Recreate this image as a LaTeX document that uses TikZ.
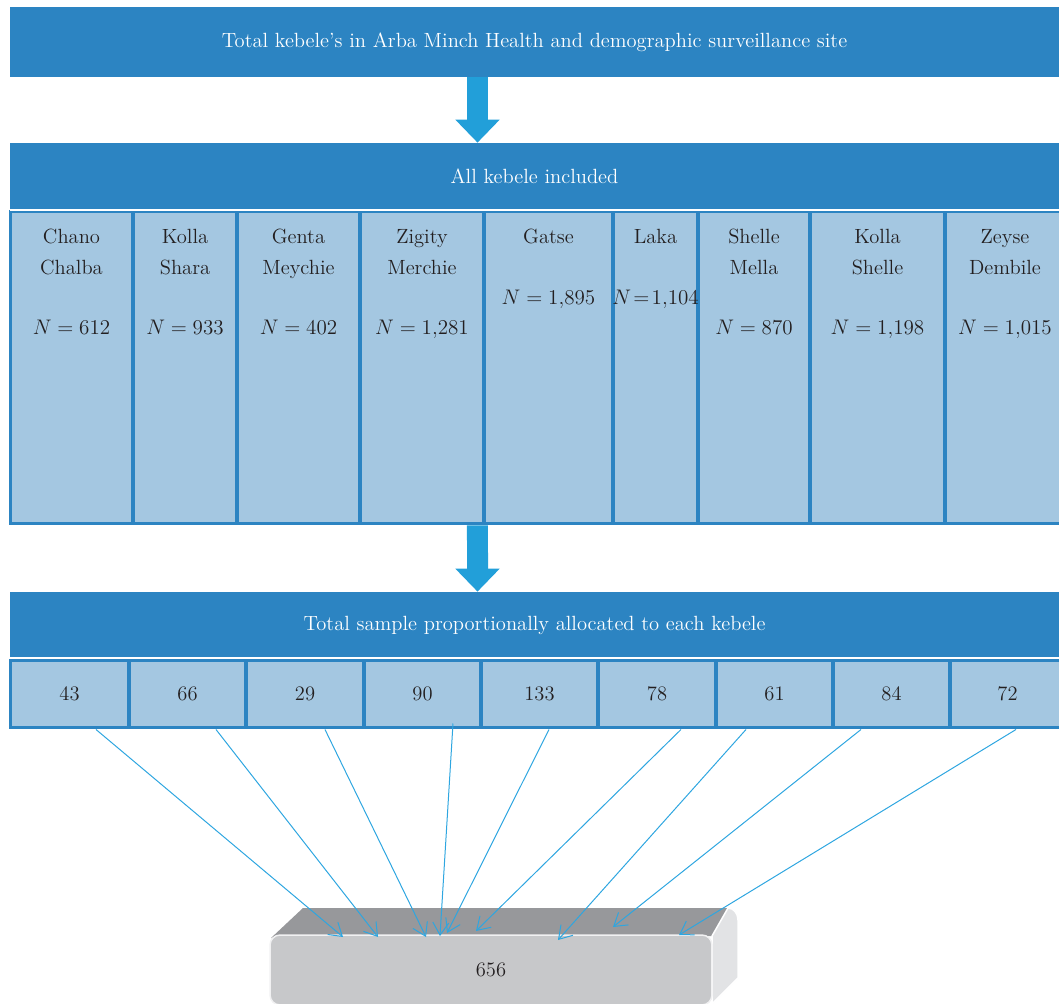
\documentclass[tikz,border=0pt]{standalone}
\usepackage{tikz}
\usetikzlibrary{arrows.meta, positioning}
\definecolor{kbDark}{HTML}{2C84C2}
\definecolor{kbLight}{HTML}{A4C7E1}
\definecolor{kbArrow}{HTML}{229FD9}
\definecolor{kbLine}{HTML}{2EA6E0}
\definecolor{kbText}{HTML}{231F20}
\definecolor{boxFront}{HTML}{C7C8CA}
\definecolor{boxTop}{HTML}{97989B}
\definecolor{boxSide}{HTML}{E2E3E5}

\begin{document}
\begin{tikzpicture}[x=0.02cm, y=-0.02cm, font=\fontsize{11.7}{17.6}\selectfont, text=kbText,
    banner/.style={rectangle, fill=kbDark, text=white, minimum width=20.98cm, inner sep=0},
    col/.style={rectangle, fill=kbLight, draw=kbDark, line width=0.06cm, minimum height=6.26cm, inner sep=0},
    coltext/.style={anchor=north, align=center, inner sep=0},
    cell/.style={rectangle, fill=kbLight, draw=kbDark, line width=0.06cm, minimum height=1.36cm, inner sep=0},
    blockarrow/.style={draw=kbArrow, line width=0.42cm, -{Triangle[length=0.46cm 0 0, width=0.86cm 0 0]}},
    thinarrow/.style={draw=kbLine, line width=0.02cm, -{Straight Barb[length=0.25cm, width=0.32cm]}}]
        \useasboundingbox (0,0) rectangle (1059,1004);
        \clip (0,0) rectangle (1059,1004);

        % top banners
        \node[banner, minimum height=1.4cm] at (534.5, 42) (top) {Total kebele's in Arba Minch Health and demographic surveillance site};

        % kebele columns
        \node[col, minimum width=2.46cm] at (71.5, 367.5)  (k1) {};
        \node[col, minimum width=2.08cm] at (185, 367.5)   (k2) {};
        \node[col, minimum width=2.46cm] at (298.5, 367.5) (k3) {};
        \node[col, minimum width=2.48cm] at (422, 367.5)   (k4) {};
        \node[col, minimum width=2.58cm] at (548.5, 367.5) (k5) {};
        \node[col, minimum width=1.70cm] at (655.5, 367.5) (k6) {};
        \node[col, minimum width=2.24cm] at (754, 367.5)   (k7) {};
        \node[col, minimum width=2.70cm] at (877.5, 367.5) (k8) {};
        \node[col, minimum width=2.40cm] at (1005, 367.5)  (k9) {};

        \node[banner, minimum height=1.34cm] at (534.5, 176.5) (all) {All kebele included};
        \draw[white, line width=0.04cm] (all.south west) -- (all.south east);

        \node[coltext] at (71.5, 229)  (n1) {Chano\\Chalba\\[0.58cm]$N = 612$};
        \node[coltext] at (185, 229)   (n2) {Kolla\\Shara\\[0.58cm]$N = 933$};
        \node[coltext] at (298.5, 229) (n3) {Genta\\Meychie\\[0.58cm]$N = 402$};
        \node[coltext] at (422, 229)   (n4) {Zigity\\Merchie\\[0.58cm]$N = 1{,}281$};
        \node[coltext] at (548.5, 229) (n5) {Gatse\\[0.6cm]$N = 1{,}895$};
        \node[coltext] at (655.5, 229) (n6) {Laka\\[0.6cm]$N\!=\!1{,}104$};
        \node[coltext] at (754, 229)   (n7) {Shelle\\Mella\\[0.58cm]$N = 870$};
        \node[coltext] at (877.5, 229) (n8) {Kolla\\Shelle\\[0.58cm]$N = 1{,}198$};
        \node[coltext] at (1005, 229)  (n9) {Zeyse\\Dembile\\[0.58cm]$N = 1{,}015$};

        % sample row
        \node[cell, minimum width=2.38cm] at (69.5, 694)   (c1) {43};
        \node[cell, minimum width=2.34cm] at (187.5, 694)  (c2) {66};
        \node[cell, minimum width=2.36cm] at (305, 694)    (c3) {29};
        \node[cell, minimum width=2.34cm] at (422.5, 694)  (c4) {90};
        \node[cell, minimum width=2.34cm] at (539.5, 694)  (c5) {133};
        \node[cell, minimum width=2.36cm] at (657, 694)    (c6) {78};
        \node[cell, minimum width=2.34cm] at (774.5, 694)  (c7) {61};
        \node[cell, minimum width=2.34cm] at (891.5, 694)  (c8) {84};
        \node[cell, minimum width=2.30cm] at (1007.5, 694) (c9) {72};

        \node[banner, minimum height=1.32cm] at (534.5, 625) (samp) {Total sample proportionally allocated to each kebele};
        \draw[white, line width=0.04cm] (samp.south west) -- (samp.south east);

        \draw[blockarrow] ([xshift=-1.14cm]top.south) -- ([xshift=-1.14cm]all.north);
        \draw[blockarrow] ([xshift=1.11cm]k4.south) -- ([xshift=-1.14cm]samp.north);

        % total box
        \fill[boxTop] (271,938) -- (303,908) -- (728,908) -- (712,936) -- cycle;
        \fill[boxSide, draw=white, line width=0.03cm] (712,936) -- (728,908) to[out=0, in=90] (738,920) -- (738,978) -- (712,1004) -- cycle;
        \node[rectangle, rounded corners=0.2cm, fill=boxFront, draw=white!75!boxFront, line width=0.03cm,
            minimum width=8.84cm, minimum height=1.4cm] at (491, 970) (total) {656};

        \coordinate (t1) at (343, 937);
        \coordinate (t2) at (378, 937);
        \coordinate (t3) at (426, 937);
        \coordinate (t4) at (440, 936);
        \coordinate (t5) at (447, 933);
        \coordinate (t6) at (476, 931);
        \coordinate (t7) at (558, 940);
        \coordinate (t8) at (613, 927);
        \coordinate (t9) at (679, 935);

        \draw[thinarrow] ([xshift=0.53cm]c1.south) -- (t1);
        \draw[thinarrow] ([xshift=0.57cm]c2.south) -- (t2);
        \draw[thinarrow] ([xshift=0.40cm]c3.south) -- (t3);
        \draw[thinarrow] ([xshift=0.61cm, yshift=0.12cm]c4.south) -- (t4);
        \draw[thinarrow] ([xshift=0.19cm]c5.south) -- (t5);
        \draw[thinarrow] ([xshift=0.48cm]c6.south) -- (t6);
        \draw[thinarrow] ([xshift=-0.57cm]c7.south) -- (t7);
        \draw[thinarrow] ([xshift=-0.61cm]c8.south) -- (t8);
        \draw[thinarrow] ([xshift=0.17cm]c9.south) -- (t9);
\end{tikzpicture}
\end{document}
